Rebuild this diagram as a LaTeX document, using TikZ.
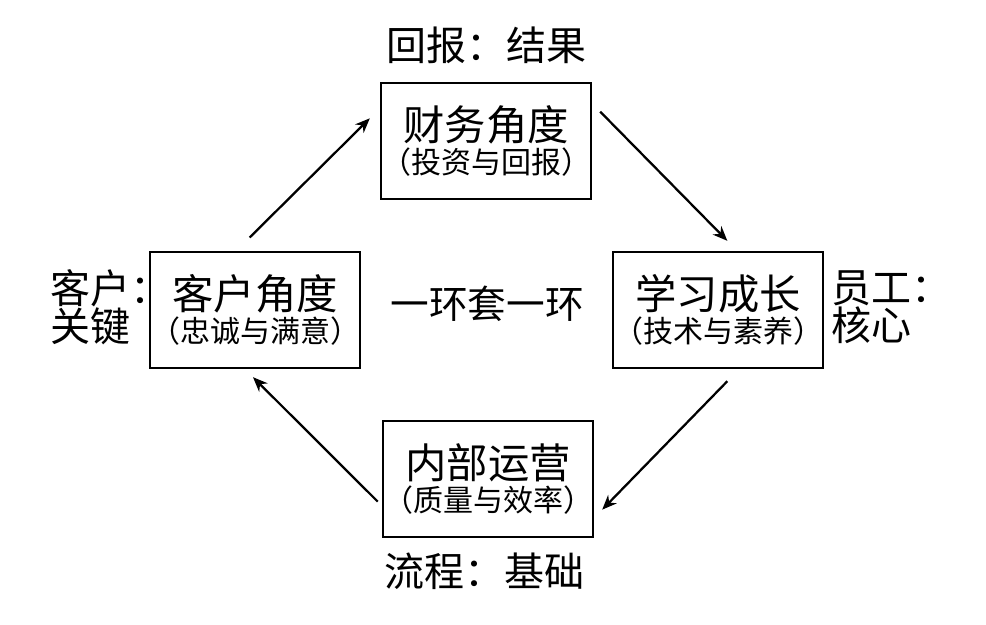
\documentclass[tikz,border=0pt]{standalone}
\usepackage{fontspec}
\setmainfont{Noto Sans CJK SC}
\usetikzlibrary{arrows.meta}

\tikzset{
  perspbox/.style={draw, line width=1.8pt, minimum width=153pt, minimum height=87pt,
    align=center, inner sep=0pt},
  outerlbl/.style={font=\fontsize{30}{26}\selectfont, inner sep=0pt},
  cyclearr/.style={line width=1.7pt, -{Stealth[length=11pt,width=9pt]}}
}
\newcommand{\boxtext}[2]{{\fontsize{31}{31}\selectfont #1}\\[2pt]{\fontsize{22.5}{22.5}\selectfont #2}}

\begin{document}
\begin{tikzpicture}[x=0.75pt, y=-0.75pt]
\useasboundingbox (0,0) rectangle (986,625);
% four perspectives
\node[perspbox] (fin) at (486,141) {\boxtext{财务角度}{（投资与回报）}};
\node[perspbox] (cust) at (255,310) {\boxtext{客户角度}{（忠诚与满意）}};
\node[perspbox] (learn) at (718,310) {\boxtext{学习成长}{（技术与素养）}};
\node[perspbox] (proc) at (488,479) {\boxtext{内部运营}{（质量与效率）}};
% outer labels
\node[outerlbl] (finlbl) at (486,45) {回报：结果};
\node[outerlbl] (proclbl) at (484,571) {流程：基础};
\node[outerlbl, align=left, anchor=west] (custlbl) at (50,307) {客户：\\关键};
\node[outerlbl, align=left, anchor=west] (learnlbl) at (831,307) {员工：\\核心};
% centre
\node[outerlbl, font=\fontsize{29}{29}\selectfont] (ring) at (487,304) {一环套一环};
% cycle arrows
\draw[cyclearr] ([xshift=-4pt,yshift=10pt]cust.north) -- ([xshift=-7.5pt,yshift=17pt]fin.west);
\draw[cyclearr] ([xshift=6pt,yshift=22pt]fin.east) -- ([xshift=7pt,yshift=7.5pt]learn.north);
\draw[cyclearr] ([xshift=7pt,yshift=-9pt]learn.south) -- ([xshift=6pt,yshift=-23pt]proc.east);
\draw[cyclearr] ([xshift=-3pt,yshift=-17pt]proc.west) -- ([xshift=-1.5pt,yshift=-6pt]cust.south);
\end{tikzpicture}
\end{document}
